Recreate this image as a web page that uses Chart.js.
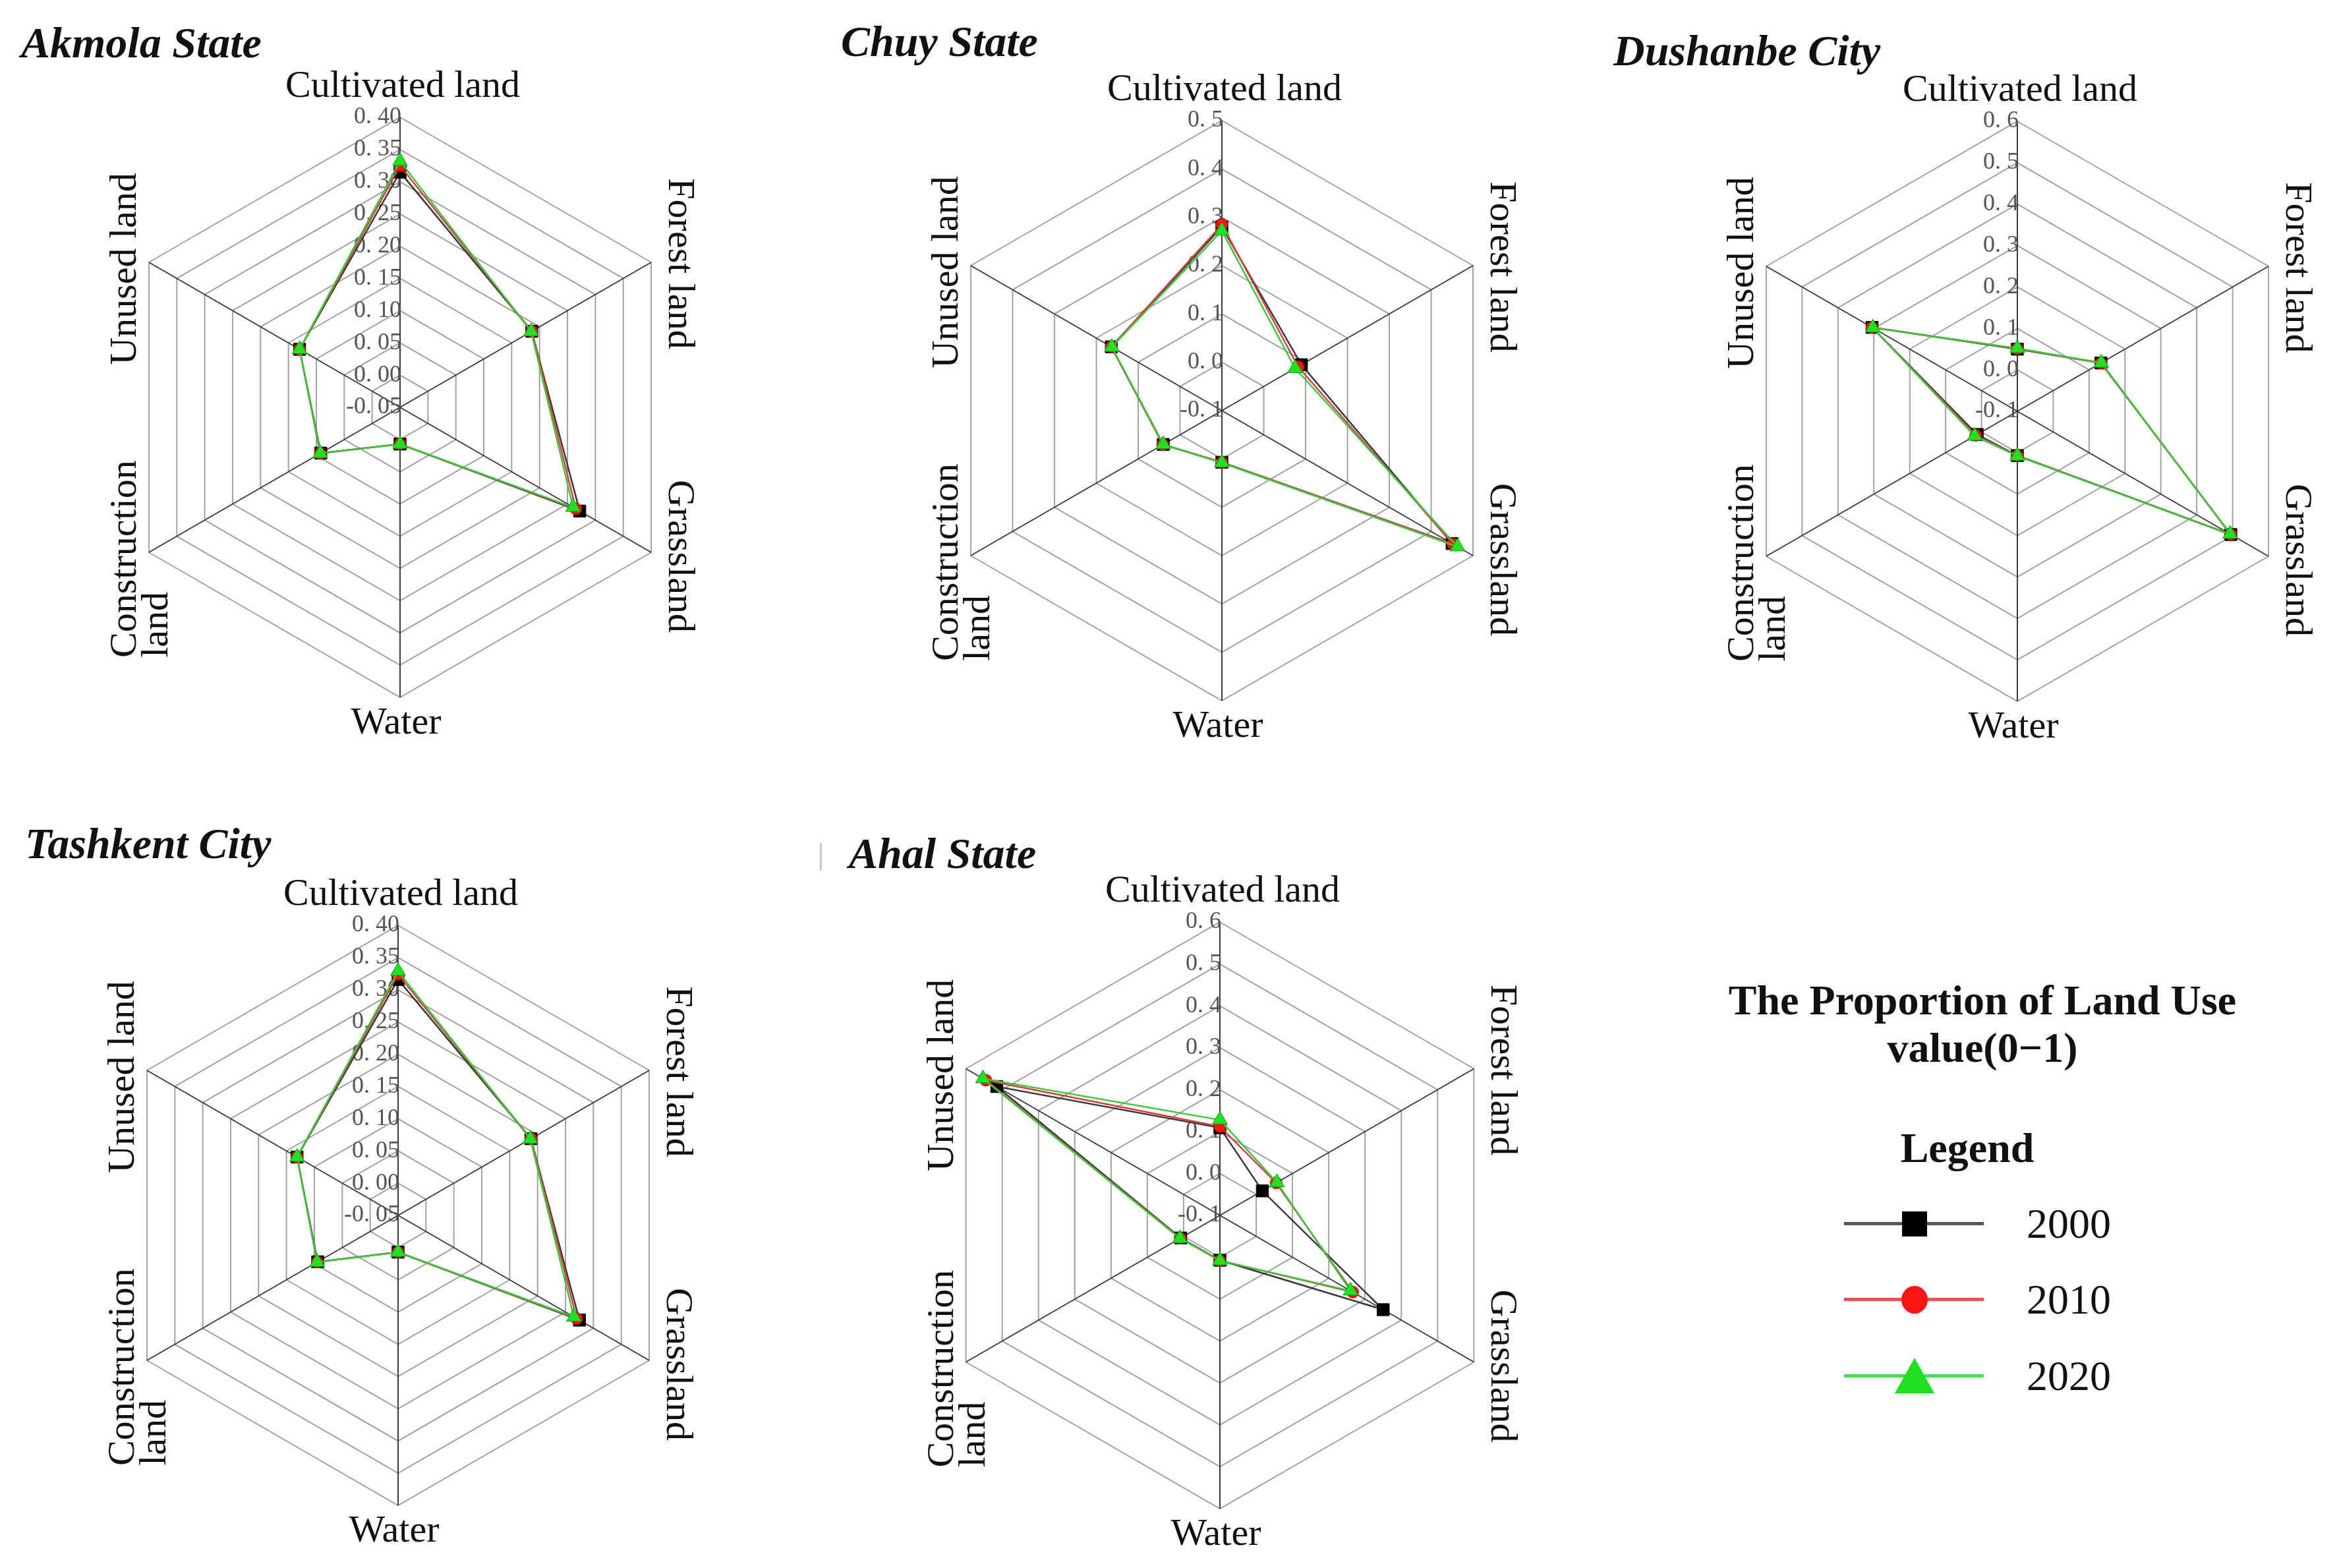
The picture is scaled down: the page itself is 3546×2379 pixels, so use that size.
<!DOCTYPE html>
<html>
<head>
<meta charset="utf-8">
<script src="https://cdn.jsdelivr.net/npm/chart.js@4.4.1/dist/chart.umd.min.js"></script>
<style>
    html, body { margin: 0; padding: 0; background: #fff; overflow: hidden; }
    body { width: 3546px; height: 2379px; position: relative; font-family: "Liberation Serif", "Times New Roman", serif; color: #111; }
    .title { position: absolute; font-weight: bold; font-style: italic; font-size: 66px; line-height: 66px; white-space: nowrap; }
    canvas.radar { position: absolute; }
    .legend-title { position: absolute; left: 2508px; width: 1000px; text-align: center; font-weight: bold; font-size: 64px; line-height: 72px; }
    .legend-row { position: absolute; left: 2790px; width: 600px; height: 68px; }
    .legend-row .line { position: absolute; left: 8px; top: 31px; width: 212px; height: 5px; }
    .legend-row .mark { position: absolute; }
    .legend-row .txt { position: absolute; left: 285px; top: 0; font-size: 64px; line-height: 68px; }
    .artifact { position: absolute; left: 1244px; top: 1279px; width: 3px; height: 42px; background: #c8c8c8; }
</style>
</head>
<body>

<div class="title" style="left:32px; top:32px;">Akmola State</div>
<div class="title" style="left:1276px; top:30px;">Chuy State</div>
<div class="title" style="left:2448px; top:44px;">Dushanbe City</div>
<div class="title" style="left:38px; top:1247px;">Tashkent City</div>
<div class="artifact"></div>
<div class="title" style="left:1288px; top:1262px;">Ahal State</div>

<canvas class="radar" id="akmola" width="1000" height="1120" style="left:107px; top:58px;"></canvas>
<canvas class="radar" id="chuy" width="1000" height="1120" style="left:1354px; top:63px;"></canvas>
<canvas class="radar" id="dushanbe" width="1000" height="1120" style="left:2561px; top:64px;"></canvas>
<canvas class="radar" id="tashkent" width="1000" height="1120" style="left:104px; top:1284px;"></canvas>
<canvas class="radar" id="ahal" width="1000" height="1120" style="left:1351px; top:1284px;"></canvas>

<div class="legend-title" style="top:1482px;">The Proportion of Land Use<br>value(0−1)</div>
<div class="legend-title" style="top:1706px; left:2485px;">Legend</div>

<div class="legend-row" style="top:1823px;">
    <div class="line" style="background:#555;"></div>
    <div class="mark" style="left:96px; top:15px; width:38px; height:38px; background:#000;"></div>
    <div class="txt">2000</div>
</div>
<div class="legend-row" style="top:1938px;">
    <div class="line" style="background:#ee5050;"></div>
    <div class="mark" style="left:95px; top:13px; width:40px; height:42px; border-radius:50%; background:#ff1414;"></div>
    <div class="txt">2010</div>
</div>
<div class="legend-row" style="top:2054px;">
    <div class="line" style="background:#4ede4e;"></div>
    <div class="mark" style="left:85px; top:6px; width:0; height:0; border-left:30px solid transparent; border-right:30px solid transparent; border-bottom:54px solid #1ee01e;"></div>
    <div class="txt">2020</div>
</div>

<script>
const landTypes = ['Cultivated land', 'Forest land', 'Grassland', 'Water', ['Construction', 'land'], 'Unused land'];
const years = ['2000', '2010', '2020'];

// tick values of each radial axis (centre to outer ring)
const akmolaTicks = [-0.05, 0.00, 0.05, 0.10, 0.15, 0.20, 0.25, 0.30, 0.35, 0.40];
const chuyTicks = [-0.1, 0.0, 0.1, 0.2, 0.3, 0.4, 0.5];
const dushanbeTicks = [-0.1, 0.0, 0.1, 0.2, 0.3, 0.4, 0.5, 0.6];
const tashkentTicks = [-0.05, 0.00, 0.05, 0.10, 0.15, 0.20, 0.25, 0.30, 0.35, 0.40];
const ahalTicks = [-0.1, 0.0, 0.1, 0.2, 0.3, 0.4, 0.5, 0.6];

// proportions in landTypes order
const akmola2000 = [0.315, 0.186, 0.272, 0.007, 0.092, 0.130];
const akmola2010 = [0.325, 0.186, 0.265, 0.007, 0.093, 0.130];
const akmola2020 = [0.332, 0.185, 0.260, 0.007, 0.093, 0.130];

const chuy2000 = [0.280, 0.090, 0.450, 0.007, 0.040, 0.164];
const chuy2010 = [0.285, 0.082, 0.452, 0.007, 0.041, 0.164];
const chuy2020 = [0.272, 0.075, 0.463, 0.008, 0.040, 0.163];

const dushanbe2000 = [0.050, 0.133, 0.495, 0.007, 0.012, 0.305];
const dushanbe2010 = [0.051, 0.133, 0.495, 0.007, 0.016, 0.305];
const dushanbe2020 = [0.052, 0.134, 0.493, 0.008, 0.019, 0.303];

const tashkent2000 = [0.316, 0.188, 0.275, 0.007, 0.094, 0.131];
const tashkent2010 = [0.324, 0.188, 0.270, 0.007, 0.095, 0.131];
const tashkent2020 = [0.329, 0.187, 0.265, 0.007, 0.095, 0.131];

const ahal2000 = [0.109, 0.017, 0.350, 0.007, 0.008, 0.515];
const ahal2010 = [0.112, 0.055, 0.266, 0.008, 0.009, 0.545];
const ahal2020 = [0.128, 0.057, 0.260, 0.008, 0.010, 0.553];

const yearStyles = [
    { line: '#383838', fill: '#000000', edge: '#000000', shape: 'rect', radius: 13, order: 3 },
    { line: '#d84040', fill: '#ff1414', edge: '#c00000', shape: 'circle', radius: 9, order: 2 },
    { line: '#3cc83c', fill: '#22e022', edge: '#139a13', shape: 'triangle', radius: 13, order: 1 },
];

const formatTick = (value, decimals) => value.toFixed(decimals).replace('.', '. ');

const radarText = {
    id: 'radarText',
    beforeDatasetsDraw(chart, args, opts) {
        const scale = chart.scales.r;
        const ctx = chart.ctx;
        ctx.save();
        ctx.font = '36px "Liberation Serif"';
        ctx.fillStyle = '#555';
        ctx.textAlign = 'right';
        ctx.textBaseline = 'middle';
        scale.ticks.forEach((tick) => {
            const d = scale.getDistanceFromCenterForValue(tick.value);
            ctx.fillText(formatTick(tick.value, opts.decimals), scale.xCenter + 2, scale.yCenter - d);
        });
        ctx.restore();
    },
    afterDraw(chart) {
        const scale = chart.scales.r;
        const ctx = chart.ctx;
        ctx.save();
        ctx.font = '58px "Liberation Serif"';
        ctx.fillStyle = '#111';
        ctx.textBaseline = 'alphabetic';
        chart.data.labels.forEach((label, i) => {
            const p = scale.getPointPosition(i, scale.drawingArea);
            const lines = Array.isArray(label) ? label : [label];
            ctx.save();
            if (i === 0) {
                ctx.textAlign = 'center';
                ctx.fillText(lines[0], p.x + 4, p.y - 31);
            } else if (i === 3) {
                ctx.textAlign = 'center';
                ctx.fillText(lines[0], p.x - 6, p.y + 55);
            } else if (i === 1 || i === 2) {
                ctx.translate(p.x + 27, p.y + (i === 2 ? 6 : 2));
                ctx.rotate(Math.PI / 2);
                ctx.textAlign = 'center';
                ctx.fillText(lines[0], 0, 0);
            } else if (lines.length === 1) {
                ctx.translate(p.x - 20, p.y + 10);
                ctx.rotate(-Math.PI / 2);
                ctx.textAlign = 'center';
                ctx.fillText(lines[0], 0, 0);
            } else {
                ctx.translate(p.x - 20, p.y);
                ctx.rotate(-Math.PI / 2);
                ctx.textAlign = 'left';
                const w = Math.max(...lines.map((ln) => ctx.measureText(ln).width));
                lines.forEach((ln, k) => ctx.fillText(ln, -w / 2 - 10, k * 48));
            }
            ctx.restore();
        });
        ctx.restore();
    },
};

function drawRadar(id, tickValues, decimals, series, radius) {
    const canvas = document.getElementById(id);
    const padX = (canvas.width - 2 * radius) / 2;
    const padY = (canvas.height - 2 * radius) / 2;

    new Chart(canvas, {
        type: 'radar',
        data: {
            labels: landTypes,
            datasets: series.map((values, k) => ({
                label: years[k],
                data: values,
                borderColor: yearStyles[k].line,
                borderWidth: 2.5,
                fill: false,
                tension: 0,
                order: yearStyles[k].order,
                pointStyle: yearStyles[k].shape,
                pointRadius: yearStyles[k].radius,
                pointBackgroundColor: yearStyles[k].fill,
                pointBorderColor: yearStyles[k].edge,
                pointBorderWidth: 1,
            })),
        },
        options: {
            responsive: false,
            animation: false,
            devicePixelRatio: 1,
            events: [],
            layout: { padding: { left: padX, right: padX, top: padY, bottom: padY } },
            scales: {
                r: {
                    min: tickValues[0],
                    max: tickValues[tickValues.length - 1],
                    ticks: { display: false, stepSize: tickValues[1] - tickValues[0] },
                    afterBuildTicks: (scale) => {
                        scale.ticks = tickValues.map((value) => ({ value }));
                    },
                    pointLabels: { display: false },
                    grid: { color: '#a2a2a2', lineWidth: 2 },
                    angleLines: { color: '#3a3a3a', lineWidth: 2 },
                },
            },
            plugins: {
                legend: { display: false },
                tooltip: { enabled: false },
                radarText: { decimals },
            },
        },
        plugins: [radarText],
    });
}

drawRadar('akmola', akmolaTicks, 2, [akmola2000, akmola2010, akmola2020], 440);
drawRadar('chuy', chuyTicks, 1, [chuy2000, chuy2010, chuy2020], 440);
drawRadar('dushanbe', dushanbeTicks, 1, [dushanbe2000, dushanbe2010, dushanbe2020], 440);
drawRadar('tashkent', tashkentTicks, 2, [tashkent2000, tashkent2010, tashkent2020], 440);
drawRadar('ahal', ahalTicks, 1, [ahal2000, ahal2010, ahal2020], 445);
</script>
</body>
</html>
